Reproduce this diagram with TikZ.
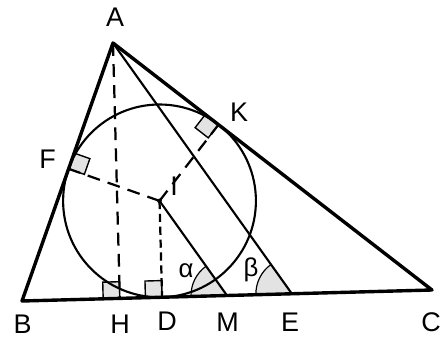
\documentclass[tikz,border=0pt]{standalone}
\usepackage{fontspec}
\setmainfont{Liberation Sans}
\usetikzlibrary{calc,angles}
\begin{document}
\begin{tikzpicture}[x=0.03cm,y=-0.03cm,
  tri/.style={line width=2.9pt,line join=round,line cap=round},
  inner/.style={line width=1.8pt},
  dashline/.style={line width=1.9pt,dash pattern=on 11pt off 7pt},
  rmark/.style={fill=gray!22,draw=black,line width=1.2pt},
  wedge/.style={fill=gray!22,draw=black,line width=1pt,angle radius=1.08cm},
  lab/.style={font=\fontsize{23}{23}\selectfont,inner sep=0pt}]
\useasboundingbox (0,0) rectangle (441,340);
\coordinate (A) at (113,43);
\coordinate (B) at (22,301);
\coordinate (C) at (432,290);
\coordinate (I) at (barycentric cs:A=0.37727,B=0.37106,C=0.25167);
\coordinate (F) at ($(A)!(I)!(B)$);
\coordinate (K) at ($(A)!(I)!(C)$);
\coordinate (D) at ($(B)!(I)!(C)$);
\coordinate (H) at ($(B)!(A)!(C)$);
\coordinate (M) at ($(B)!0.5!(C)$);
\coordinate (Ap) at ($(A)+(M)-(I)$);
\coordinate (E) at (intersection of A--Ap and B--C);
% angle wedges
\pic[wedge] {angle = I--M--B};
\pic[wedge] {angle = A--E--B};
% right-angle marks
\coordinate (h1) at ($(H)!0.5cm!(B)$);
\coordinate (h2) at ($(H)!0.5cm!(A)$);
\draw[rmark] (H) -- (h1) -- ($(h1)+(h2)-(H)$) -- (h2) -- cycle;
\coordinate (d1) at ($(D)!0.5cm!(B)$);
\coordinate (d2) at ($(D)!0.5cm!(I)$);
\draw[rmark] (D) -- (d1) -- ($(d1)+(d2)-(D)$) -- (d2) -- cycle;
\coordinate (f1) at ($(F)!0.5cm!(A)$);
\coordinate (f2) at ($(F)!0.5cm!(I)$);
\draw[rmark] (F) -- (f1) -- ($(f1)+(f2)-(F)$) -- (f2) -- cycle;
\coordinate (k1) at ($(K)!0.5cm!(A)$);
\coordinate (k2) at ($(K)!0.5cm!(I)$);
\draw[rmark] (K) -- (k1) -- ($(k1)+(k2)-(K)$) -- (k2) -- cycle;
% circle
\draw[inner] (I) circle [radius=2.892cm];
% dashed lines
\draw[dashline] (A) -- (H);
\draw[dashline] (I) -- (F);
\draw[dashline] (I) -- (K);
\draw[dashline,dash pattern=on 7pt off 4pt] (I) -- (D);
% solid inner lines
\draw[inner] (A) -- (E);
\draw[inner] (I) -- (M);
\fill (I) circle [radius=0.07cm];
% triangle
\draw[tri] (A) -- (B) -- (C) -- cycle;
% labels
\node[lab] (lA) at (115,17) {A};
\node[lab] (lB) at (22.5,324) {B};
\node[lab] (lC) at (431,322) {C};
\node[lab] (lH) at (120,324) {H};
\node[lab] (lD) at (167,321) {D};
\node[lab] (lM) at (227.5,322) {M};
\node[lab] (lE) at (290,322) {E};
\node[lab] (lF) at (47.5,159) {F};
\node[lab] (lK) at (239,112) {K};
\node[lab] (lI) at (174,186) {I};
\node[lab,font=\fontsize{22}{22}\selectfont] (la) at (186,271) {α};
\node[lab,font=\fontsize{22}{22}\selectfont] (lb) at (251,270) {β};
\end{tikzpicture}
\end{document}
